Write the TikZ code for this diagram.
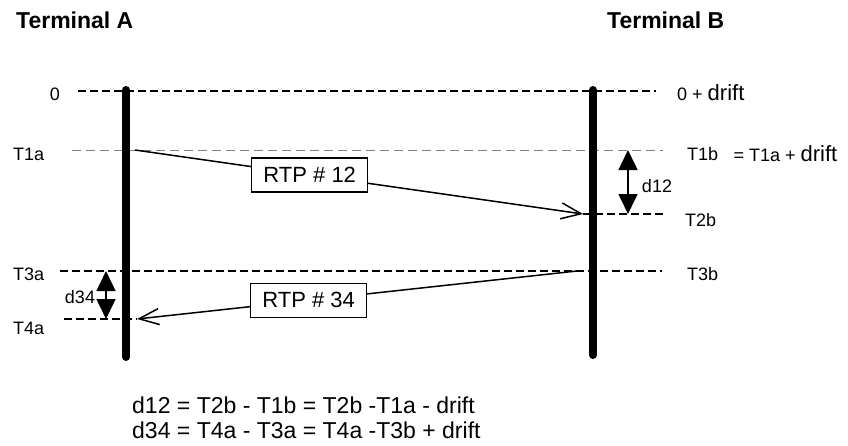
\documentclass[tikz,border=0pt]{standalone}
\usepackage{fontspec}
\setmainfont{Liberation Sans}
\usetikzlibrary{arrows.meta}
\usetikzlibrary{positioning}

\begin{document}
\begin{tikzpicture}[
    x=1pt, y=-1pt,  % one unit = one pixel, y grows downwards
    timeline/.style={
        line width=8pt,
        line cap=round
    },
    level/.style={
        line width=1.5pt,
        dash pattern=on 8pt off 4pt
    },
    faintlevel/.style={
        line width=1pt,
        draw=gray,
        dash pattern=on 9pt off 5pt
    },
    msg/.style={
        -{Straight Barb[length=20pt, width=16pt]},
        line width=1.5pt
    },
    delay/.style={
        {Triangle[length=20pt, width=19pt]}-{Triangle[length=20pt, width=19pt]},
        line width=1.5pt
    },
    rtpbox/.style={
        rectangle,
        draw,
        fill=white,
        line width=1.5pt,
        minimum width=116pt,
        minimum height=34pt,
        inner sep=0pt,
        font=\fontsize{22}{24}\selectfont
    },
    lbl/.style={
        font=\fontsize{18}{20}\selectfont,
        inner sep=0pt
    },
    heading/.style={
        font=\fontsize{23}{25}\selectfont\bfseries,
        inner sep=0pt
    }
]
\useasboundingbox (0,0) rectangle (848,445);

% time lines of the two terminals
\coordinate (Atop) at (126,90);
\coordinate (Abot) at (126,357);
\coordinate (Btop) at (593,90);
\coordinate (Bbot) at (593,355);

% ends of the dashed time levels
\coordinate (zeroL) at (78,91);
\coordinate (zeroR) at (656,91);
\coordinate (t1L) at (72,150);
\coordinate (t1R) at (663,150);
\coordinate (t2L) at (583,214);
\coordinate (t2R) at (665,214);
\coordinate (t3L) at (60,271);
\coordinate (t3R) at (662,271);
\coordinate (t4L) at (64,319);
\coordinate (t4R) at (137,319);

% message and delay end points
\coordinate (send12) at (135,150);
\coordinate (send34) at (577,271);
\coordinate (d12top) at (628,150);
\coordinate (d12bot) at (628,214);
\coordinate (d34top) at (106,271);
\coordinate (d34bot) at (106,319);

\draw[level] (zeroL) -- (zeroR);
\draw[faintlevel] (t1L) -- (t1R);
\draw[level] (t2L) -- (t2R);
\draw[level] (t3L) -- (t3R);
\draw[level] (t4L) -- (t4R);

\draw[timeline] (Atop) -- (Abot);
\draw[timeline] (Btop) -- (Bbot);

% packets
\draw[msg] (send12) -- node[rtpbox, pos=0.39] (rtp12) {RTP \# 12} (t2L);
\draw[msg] (send34) -- node[rtpbox, pos=0.61] (rtp34) {RTP \# 34} (t4R);

% delays
\draw[delay] (d12top) -- (d12bot);
\draw[delay] (d34top) -- (d34bot);

% labels
\node[heading, anchor=west] (termA) at (16,20) {Terminal A};
\node[heading, anchor=west] (termB) at (607,20) {Terminal B};

\node[lbl] (lzero) at (55,94) {0};
\node[lbl, anchor=west] (lzeroB) at (677,93) {0 + {\fontsize{22}{24}\selectfont drift}};
\node[lbl, anchor=west] (lT1a) at (13,154) {T1a};
\node[lbl, anchor=west] (lT1b) at (687,154) {T1b};
\node[lbl, right=15pt of lT1b] (lT1bdef) {= T1a + {\fontsize{22}{24}\selectfont drift}};
\node[lbl, anchor=west] (lT2b) at (685,220) {T2b};
\node[lbl, anchor=west] (lT3a) at (13,274) {T3a};
\node[lbl, anchor=west] (lT3b) at (687,274) {T3b};
\node[lbl, anchor=west] (lT4a) at (13,328) {T4a};
\node[lbl] (ld12) at (657,186) {d12};
\node[lbl] (ld34) at (80,297) {d34};

% result
\node[align=left, anchor=north west, inner sep=0pt, font=\fontsize{23}{25}\selectfont] (eqs) at (132,397)
    {d12 = T2b - T1b = T2b -T1a - drift\\
     d34 = T4a - T3a = T4a -T3b + drift};

\end{tikzpicture}
\end{document}
